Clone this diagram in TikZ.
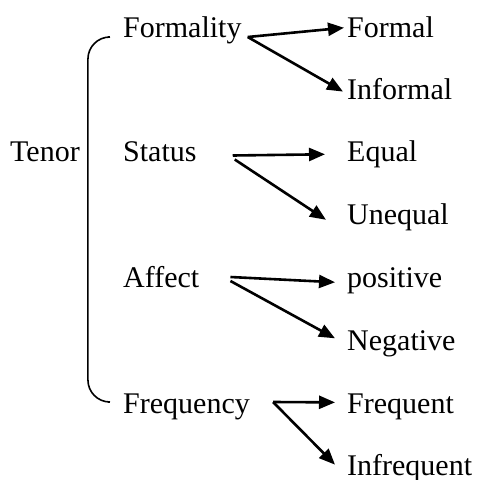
\documentclass[tikz,border=0pt]{standalone}
\usepackage{fontspec}
\setmainfont{Liberation Serif}
\usetikzlibrary{positioning, arrows.meta, calc}

\begin{document}
\begin{tikzpicture}[x=1pt, y=-1pt,
      wort/.style={inner sep=0pt, anchor=base west, text=black,
        font=\fontsize{30}{36}\selectfont},
      pfeil/.style={-{Triangle[length=16pt, width=13pt]}, black, line width=2.6pt},
      klammer/.style={black, line width=1.6pt, rounded corners=22pt}]
    \useasboundingbox (0,0) rectangle (483,480);
    \node[wort] (tenor) at (10,161.5) {Tenor};
    \node[wort] (formality) at (123,37) {Formality};
    \node[wort] (status) at (123,161.5) {Status};
    \node[wort] (affect) at (123,287) {Affect};
    \node[wort] (frequency) at (123,413) {Frequency};
    \node[wort] (formal) at (347,37) {Formal};
    \node[wort] (informal) at (347,99) {Informal};
    \node[wort] (equal) at (347,161.5) {Equal};
    \node[wort] (unequal) at (347,224) {Unequal};
    \node[wort] (positive) at (347,287) {positive};
    \node[wort] (negative) at (347,350) {Negative};
    \node[wort] (frequent) at (347,413) {Frequent};
    \node[wort] (infrequent) at (347,475) {Infrequent};
    % Klammer
    \draw[klammer] ([xshift=-15pt]formality.base west)
      -| ([xshift=8pt]tenor.east)
      |- ([xshift=-15pt, yshift=11pt]frequency.base west);
    % Pfeile
    \draw[pfeil] ([xshift=6pt]formality.base east) -- ([xshift=-3pt, yshift=-1pt]formal.west);
    \draw[pfeil] ([xshift=6pt]formality.base east) -- ([xshift=-4pt, yshift=-3pt]informal.west);
    \draw[pfeil] ([xshift=36pt, yshift=6pt]status.base east) -- ([xshift=-22pt]equal.west);
    \draw[pfeil] ([xshift=38pt, yshift=2pt]status.base east) -- ([xshift=-21pt, yshift=-3pt]unequal.west);
    \draw[pfeil] ([xshift=31pt, yshift=10pt]affect.base east) -- ([xshift=-12pt, yshift=-2pt]positive.west);
    \draw[pfeil] ([xshift=31pt, yshift=6pt]affect.base east) -- ([xshift=-12pt, yshift=5pt]negative.west);
    \draw[pfeil] ([xshift=23pt, yshift=11pt]frequency.base east) -- ([xshift=-12pt, yshift=4pt]frequent.west);
    \draw[pfeil] ([xshift=23pt, yshift=11pt]frequency.base east) -- ([xshift=-12pt, yshift=3pt]infrequent.west);
  \end{tikzpicture}
\end{document}
